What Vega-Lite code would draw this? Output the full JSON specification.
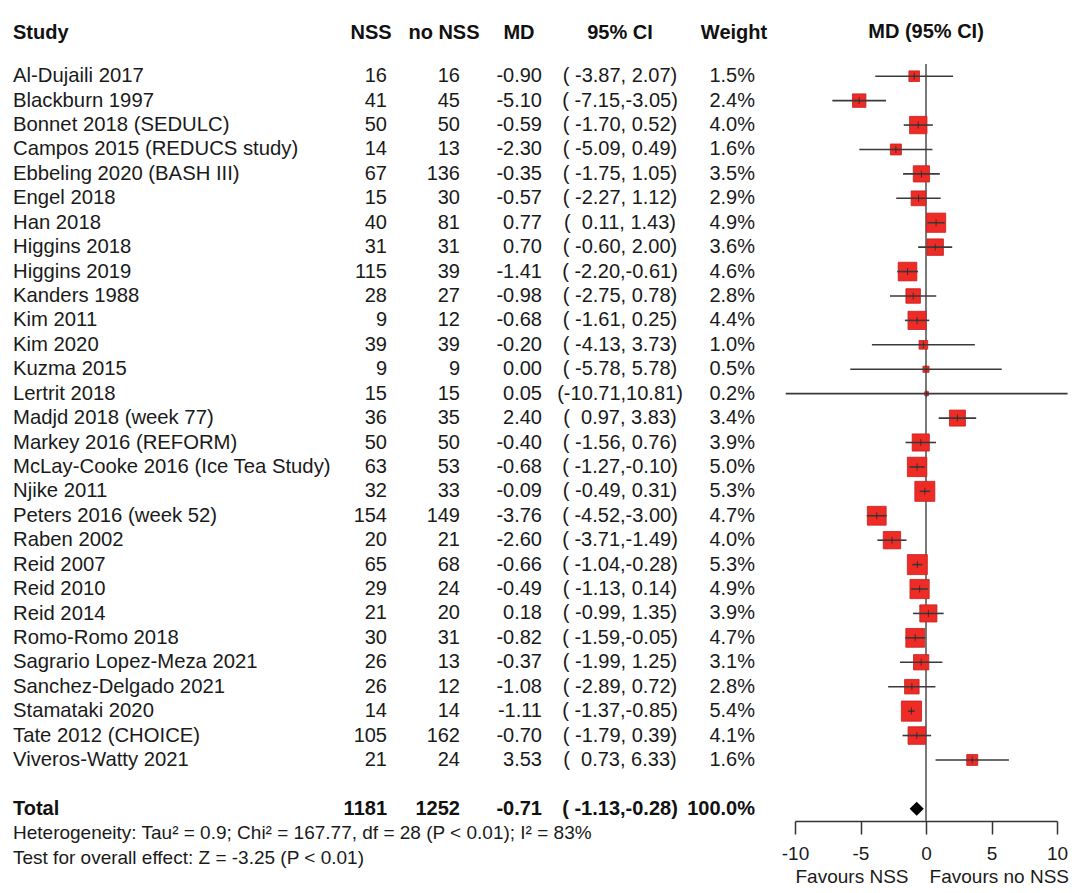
{
  "$schema": "https://vega.github.io/schema/vega-lite/v6.json",
  "background": "white",
  "padding": {"left": 13, "top": 22, "right": 5, "bottom": 5},
  "bounds": "flush",
  "spacing": 40,
  "datasets": {
    "rows": [
      {"Study": "Al-Dujaili 2017", "NSS": 16, "noNSS": 16, "MD": -0.90, "lo": -3.87, "hi": 2.07, "CI": "( -3.87, 2.07)", "W": 0.015},
      {"Study": "Blackburn 1997", "NSS": 41, "noNSS": 45, "MD": -5.10, "lo": -7.15, "hi": -3.05, "CI": "( -7.15,-3.05)", "W": 0.024},
      {"Study": "Bonnet 2018 (SEDULC)", "NSS": 50, "noNSS": 50, "MD": -0.59, "lo": -1.70, "hi": 0.52, "CI": "( -1.70, 0.52)", "W": 0.040},
      {"Study": "Campos 2015 (REDUCS study)", "NSS": 14, "noNSS": 13, "MD": -2.30, "lo": -5.09, "hi": 0.49, "CI": "( -5.09, 0.49)", "W": 0.016},
      {"Study": "Ebbeling 2020 (BASH III)", "NSS": 67, "noNSS": 136, "MD": -0.35, "lo": -1.75, "hi": 1.05, "CI": "( -1.75, 1.05)", "W": 0.035},
      {"Study": "Engel 2018", "NSS": 15, "noNSS": 30, "MD": -0.57, "lo": -2.27, "hi": 1.12, "CI": "( -2.27, 1.12)", "W": 0.029},
      {"Study": "Han 2018", "NSS": 40, "noNSS": 81, "MD": 0.77, "lo": 0.11, "hi": 1.43, "CI": "(\u00a0 0.11, 1.43)", "W": 0.049},
      {"Study": "Higgins 2018", "NSS": 31, "noNSS": 31, "MD": 0.70, "lo": -0.60, "hi": 2.00, "CI": "( -0.60, 2.00)", "W": 0.036},
      {"Study": "Higgins 2019", "NSS": 115, "noNSS": 39, "MD": -1.41, "lo": -2.20, "hi": -0.61, "CI": "( -2.20,-0.61)", "W": 0.046},
      {"Study": "Kanders 1988", "NSS": 28, "noNSS": 27, "MD": -0.98, "lo": -2.75, "hi": 0.78, "CI": "( -2.75, 0.78)", "W": 0.028},
      {"Study": "Kim 2011", "NSS": 9, "noNSS": 12, "MD": -0.68, "lo": -1.61, "hi": 0.25, "CI": "( -1.61, 0.25)", "W": 0.044},
      {"Study": "Kim 2020", "NSS": 39, "noNSS": 39, "MD": -0.20, "lo": -4.13, "hi": 3.73, "CI": "( -4.13, 3.73)", "W": 0.010},
      {"Study": "Kuzma 2015", "NSS": 9, "noNSS": 9, "MD": 0.00, "lo": -5.78, "hi": 5.78, "CI": "( -5.78, 5.78)", "W": 0.005},
      {"Study": "Lertrit 2018", "NSS": 15, "noNSS": 15, "MD": 0.05, "lo": -10.71, "hi": 10.81, "CI": "(-10.71,10.81)", "W": 0.002},
      {"Study": "Madjd 2018 (week 77)", "NSS": 36, "noNSS": 35, "MD": 2.40, "lo": 0.97, "hi": 3.83, "CI": "(\u00a0 0.97, 3.83)", "W": 0.034},
      {"Study": "Markey 2016 (REFORM)", "NSS": 50, "noNSS": 50, "MD": -0.40, "lo": -1.56, "hi": 0.76, "CI": "( -1.56, 0.76)", "W": 0.039},
      {"Study": "McLay-Cooke 2016 (Ice Tea Study)", "NSS": 63, "noNSS": 53, "MD": -0.68, "lo": -1.27, "hi": -0.10, "CI": "( -1.27,-0.10)", "W": 0.050},
      {"Study": "Njike 2011", "NSS": 32, "noNSS": 33, "MD": -0.09, "lo": -0.49, "hi": 0.31, "CI": "( -0.49, 0.31)", "W": 0.053},
      {"Study": "Peters 2016 (week 52)", "NSS": 154, "noNSS": 149, "MD": -3.76, "lo": -4.52, "hi": -3.00, "CI": "( -4.52,-3.00)", "W": 0.047},
      {"Study": "Raben 2002", "NSS": 20, "noNSS": 21, "MD": -2.60, "lo": -3.71, "hi": -1.49, "CI": "( -3.71,-1.49)", "W": 0.040},
      {"Study": "Reid 2007", "NSS": 65, "noNSS": 68, "MD": -0.66, "lo": -1.04, "hi": -0.28, "CI": "( -1.04,-0.28)", "W": 0.053},
      {"Study": "Reid 2010", "NSS": 29, "noNSS": 24, "MD": -0.49, "lo": -1.13, "hi": 0.14, "CI": "( -1.13, 0.14)", "W": 0.049},
      {"Study": "Reid 2014", "NSS": 21, "noNSS": 20, "MD": 0.18, "lo": -0.99, "hi": 1.35, "CI": "( -0.99, 1.35)", "W": 0.039},
      {"Study": "Romo-Romo 2018", "NSS": 30, "noNSS": 31, "MD": -0.82, "lo": -1.59, "hi": -0.05, "CI": "( -1.59,-0.05)", "W": 0.047},
      {"Study": "Sagrario Lopez-Meza 2021", "NSS": 26, "noNSS": 13, "MD": -0.37, "lo": -1.99, "hi": 1.25, "CI": "( -1.99, 1.25)", "W": 0.031},
      {"Study": "Sanchez-Delgado 2021", "NSS": 26, "noNSS": 12, "MD": -1.08, "lo": -2.89, "hi": 0.72, "CI": "( -2.89, 0.72)", "W": 0.028},
      {"Study": "Stamataki 2020", "NSS": 14, "noNSS": 14, "MD": -1.11, "lo": -1.37, "hi": -0.85, "CI": "( -1.37,-0.85)", "W": 0.054},
      {"Study": "Tate 2012 (CHOICE)", "NSS": 105, "noNSS": 162, "MD": -0.70, "lo": -1.79, "hi": 0.39, "CI": "( -1.79, 0.39)", "W": 0.041},
      {"Study": "Viveros-Watty 2021", "NSS": 21, "noNSS": 24, "MD": 3.53, "lo": 0.73, "hi": 6.33, "CI": "(\u00a0 0.73, 6.33)", "W": 0.016},
      {"Study": "Total", "NSS": 1181, "noNSS": 1252, "MD": -0.71, "lo": -1.13, "hi": -0.28, "CI": "( -1.13,-0.28)", "W": 1.0}
    ],
    "footer": [
      {"Study": "Heterogeneity: Tau² = 0.9; Chi² = 167.77, df = 28 (P < 0.01); I² = 83%"},
      {"Study": "Test for overall effect: Z = -3.25 (P < 0.01)"}
    ]
  },
  "config": {
    "locale": {"number": {"decimal": ".", "thousands": ",", "grouping": [3], "currency": ["$", ""], "minus": "-"}},
    "view": {"stroke": null},
    "font": "Liberation Sans",
    "text": {"font": "Liberation Sans", "fontSize": 20, "color": "#1a1a1a"},
    "title": {"font": "Liberation Sans", "fontSize": 20, "fontWeight": "bold", "color": "#111111", "baseline": "middle", "offset": 21, "frame": "group"}
  },
  "hconcat": [
    {
      "width": 294, "height": 806,
      "title": {"text": "Study", "anchor": "start"},
      "layer": [
        {
          "data": {"name": "rows"},
          "transform": [{"filter": "datum.Study !== 'Total'"}],
          "mark": {"type": "text", "align": "left", "fontSize": 20.3},
          "encoding": {
            "x": {"datum": 0, "type": "quantitative", "scale": {"domain": [0, 1]}, "axis": null},
            "y": {"field": "Study", "type": "nominal", "axis": null, "scale": {"type": "point", "padding": 0.5, "domain": ["Al-Dujaili 2017", "Blackburn 1997", "Bonnet 2018 (SEDULC)", "Campos 2015 (REDUCS study)", "Ebbeling 2020 (BASH III)", "Engel 2018", "Han 2018", "Higgins 2018", "Higgins 2019", "Kanders 1988", "Kim 2011", "Kim 2020", "Kuzma 2015", "Lertrit 2018", "Madjd 2018 (week 77)", "Markey 2016 (REFORM)", "McLay-Cooke 2016 (Ice Tea Study)", "Njike 2011", "Peters 2016 (week 52)", "Raben 2002", "Reid 2007", "Reid 2010", "Reid 2014", "Romo-Romo 2018", "Sagrario Lopez-Meza 2021", "Sanchez-Delgado 2021", "Stamataki 2020", "Tate 2012 (CHOICE)", "Viveros-Watty 2021", " ", "Total", "Heterogeneity: Tau² = 0.9; Chi² = 167.77, df = 28 (P < 0.01); I² = 83%", "Test for overall effect: Z = -3.25 (P < 0.01)"]}},
            "text": {"field": "Study", "type": "nominal"}
          }
        },
        {
          "data": {"name": "rows"},
          "transform": [{"filter": "datum.Study === 'Total'"}],
          "mark": {"type": "text", "align": "left", "fontWeight": "bold", "color": "#111111"},
          "encoding": {
            "x": {"datum": 0, "type": "quantitative"},
            "y": {"field": "Study", "type": "nominal"},
            "text": {"field": "Study", "type": "nominal"}
          }
        },
        {
          "data": {"name": "footer"},
          "mark": {"type": "text", "align": "left", "fontSize": 19},
          "encoding": {
            "x": {"datum": 0, "type": "quantitative"},
            "y": {"field": "Study", "type": "nominal"},
            "text": {"field": "Study", "type": "nominal"}
          }
        }
      ]
    },
    {
      "width": 40, "height": 757,
      "title": {"text": "NSS", "anchor": "middle", "dx": 4},
      "data": {"name": "rows"},
      "encoding": {
        "x": {"datum": 1, "type": "quantitative", "scale": {"domain": [0, 1]}, "axis": null},
        "y": {"field": "Study", "type": "nominal", "axis": null, "scale": {"type": "point", "padding": 0.5, "domain": ["Al-Dujaili 2017", "Blackburn 1997", "Bonnet 2018 (SEDULC)", "Campos 2015 (REDUCS study)", "Ebbeling 2020 (BASH III)", "Engel 2018", "Han 2018", "Higgins 2018", "Higgins 2019", "Kanders 1988", "Kim 2011", "Kim 2020", "Kuzma 2015", "Lertrit 2018", "Madjd 2018 (week 77)", "Markey 2016 (REFORM)", "McLay-Cooke 2016 (Ice Tea Study)", "Njike 2011", "Peters 2016 (week 52)", "Raben 2002", "Reid 2007", "Reid 2010", "Reid 2014", "Romo-Romo 2018", "Sagrario Lopez-Meza 2021", "Sanchez-Delgado 2021", "Stamataki 2020", "Tate 2012 (CHOICE)", "Viveros-Watty 2021", " ", "Total"]}},
        "text": {"field": "NSS", "type": "quantitative", "format": "d"}
      },
      "layer": [
        {"transform": [{"filter": "datum.Study !== 'Total'"}], "mark": {"type": "text", "align": "right"}},
        {"transform": [{"filter": "datum.Study === 'Total'"}], "mark": {"type": "text", "align": "right", "fontWeight": "bold", "color": "#111111"}}
      ]
    },
    {
      "width": 33, "height": 757,
      "title": {"text": "no NSS", "anchor": "middle", "dx": 0.5},
      "data": {"name": "rows"},
      "encoding": {
        "x": {"datum": 1, "type": "quantitative", "scale": {"domain": [0, 1]}, "axis": null},
        "y": {"field": "Study", "type": "nominal", "axis": null, "scale": {"type": "point", "padding": 0.5, "domain": ["Al-Dujaili 2017", "Blackburn 1997", "Bonnet 2018 (SEDULC)", "Campos 2015 (REDUCS study)", "Ebbeling 2020 (BASH III)", "Engel 2018", "Han 2018", "Higgins 2018", "Higgins 2019", "Kanders 1988", "Kim 2011", "Kim 2020", "Kuzma 2015", "Lertrit 2018", "Madjd 2018 (week 77)", "Markey 2016 (REFORM)", "McLay-Cooke 2016 (Ice Tea Study)", "Njike 2011", "Peters 2016 (week 52)", "Raben 2002", "Reid 2007", "Reid 2010", "Reid 2014", "Romo-Romo 2018", "Sagrario Lopez-Meza 2021", "Sanchez-Delgado 2021", "Stamataki 2020", "Tate 2012 (CHOICE)", "Viveros-Watty 2021", " ", "Total"]}},
        "text": {"field": "noNSS", "type": "quantitative", "format": "d"}
      },
      "layer": [
        {"transform": [{"filter": "datum.Study !== 'Total'"}], "mark": {"type": "text", "align": "right"}},
        {"transform": [{"filter": "datum.Study === 'Total'"}], "mark": {"type": "text", "align": "right", "fontWeight": "bold", "color": "#111111"}}
      ]
    },
    {
      "width": 42, "height": 757,
      "title": {"text": "MD", "anchor": "middle", "dx": -2},
      "data": {"name": "rows"},
      "encoding": {
        "x": {"datum": 1, "type": "quantitative", "scale": {"domain": [0, 1]}, "axis": null},
        "y": {"field": "Study", "type": "nominal", "axis": null, "scale": {"type": "point", "padding": 0.5, "domain": ["Al-Dujaili 2017", "Blackburn 1997", "Bonnet 2018 (SEDULC)", "Campos 2015 (REDUCS study)", "Ebbeling 2020 (BASH III)", "Engel 2018", "Han 2018", "Higgins 2018", "Higgins 2019", "Kanders 1988", "Kim 2011", "Kim 2020", "Kuzma 2015", "Lertrit 2018", "Madjd 2018 (week 77)", "Markey 2016 (REFORM)", "McLay-Cooke 2016 (Ice Tea Study)", "Njike 2011", "Peters 2016 (week 52)", "Raben 2002", "Reid 2007", "Reid 2010", "Reid 2014", "Romo-Romo 2018", "Sagrario Lopez-Meza 2021", "Sanchez-Delgado 2021", "Stamataki 2020", "Tate 2012 (CHOICE)", "Viveros-Watty 2021", " ", "Total"]}},
        "text": {"field": "MD", "type": "quantitative", "format": ".2f"}
      },
      "layer": [
        {"transform": [{"filter": "datum.Study !== 'Total'"}], "mark": {"type": "text", "align": "right"}},
        {"transform": [{"filter": "datum.Study === 'Total'"}], "mark": {"type": "text", "align": "right", "fontWeight": "bold", "color": "#111111"}}
      ]
    },
    {
      "width": 76, "height": 757,
      "title": {"text": "95% CI", "anchor": "middle"},
      "data": {"name": "rows"},
      "encoding": {
        "x": {"datum": 0.5, "type": "quantitative", "scale": {"domain": [0, 1]}, "axis": null},
        "y": {"field": "Study", "type": "nominal", "axis": null, "scale": {"type": "point", "padding": 0.5, "domain": ["Al-Dujaili 2017", "Blackburn 1997", "Bonnet 2018 (SEDULC)", "Campos 2015 (REDUCS study)", "Ebbeling 2020 (BASH III)", "Engel 2018", "Han 2018", "Higgins 2018", "Higgins 2019", "Kanders 1988", "Kim 2011", "Kim 2020", "Kuzma 2015", "Lertrit 2018", "Madjd 2018 (week 77)", "Markey 2016 (REFORM)", "McLay-Cooke 2016 (Ice Tea Study)", "Njike 2011", "Peters 2016 (week 52)", "Raben 2002", "Reid 2007", "Reid 2010", "Reid 2014", "Romo-Romo 2018", "Sagrario Lopez-Meza 2021", "Sanchez-Delgado 2021", "Stamataki 2020", "Tate 2012 (CHOICE)", "Viveros-Watty 2021", " ", "Total"]}},
        "text": {"field": "CI", "type": "nominal"}
      },
      "layer": [
        {"transform": [{"filter": "datum.Study !== 'Total'"}], "mark": {"type": "text", "align": "center"}},
        {"transform": [{"filter": "datum.Study === 'Total'"}], "mark": {"type": "text", "align": "center", "fontWeight": "bold", "color": "#111111"}}
      ]
    },
    {
      "width": 57, "height": 757,
      "title": {"text": "Weight", "anchor": "middle", "dx": 7.5},
      "data": {"name": "rows"},
      "encoding": {
        "x": {"datum": 1, "type": "quantitative", "scale": {"domain": [0, 1]}, "axis": null},
        "y": {"field": "Study", "type": "nominal", "axis": null, "scale": {"type": "point", "padding": 0.5, "domain": ["Al-Dujaili 2017", "Blackburn 1997", "Bonnet 2018 (SEDULC)", "Campos 2015 (REDUCS study)", "Ebbeling 2020 (BASH III)", "Engel 2018", "Han 2018", "Higgins 2018", "Higgins 2019", "Kanders 1988", "Kim 2011", "Kim 2020", "Kuzma 2015", "Lertrit 2018", "Madjd 2018 (week 77)", "Markey 2016 (REFORM)", "McLay-Cooke 2016 (Ice Tea Study)", "Njike 2011", "Peters 2016 (week 52)", "Raben 2002", "Reid 2007", "Reid 2010", "Reid 2014", "Romo-Romo 2018", "Sagrario Lopez-Meza 2021", "Sanchez-Delgado 2021", "Stamataki 2020", "Tate 2012 (CHOICE)", "Viveros-Watty 2021", " ", "Total"]}},
        "text": {"field": "W", "type": "quantitative", "format": ".1%"}
      },
      "layer": [
        {"transform": [{"filter": "datum.Study !== 'Total'"}], "mark": {"type": "text", "align": "right"}},
        {"transform": [{"filter": "datum.Study === 'Total'"}], "mark": {"type": "text", "align": "right", "fontWeight": "bold", "color": "#111111"}}
      ]
    },
    {
      "width": 262, "height": 757,
      "title": {"text": "MD (95% CI)", "anchor": "middle"},
      "data": {"name": "rows"},
      "layer": [
        {
          "mark": {"type": "rule", "color": "#7a7a7a", "strokeWidth": 1.6},
          "encoding": {
            "x": {"datum": 0, "type": "quantitative", "scale": {"domain": [-10, 10], "nice": false, "zero": false},
                  "axis": {"values": [-10, -5, 0, 5, 10], "grid": false, "title": "Favours NSS\u00a0\u00a0\u00a0\u00a0Favours no NSS", "titleAnchor": "start", "titleFont": "Liberation Sans", "titleFontSize": 19, "titleFontWeight": "normal", "titleColor": "#1a1a1a", "titlePadding": 4, "labelFont": "Liberation Sans", "labelFontSize": 19, "labelColor": "#1a1a1a", "labelPadding": 10, "tickSize": 13, "tickColor": "#333333", "tickWidth": 1.5, "domainColor": "#333333", "domainWidth": 1.5, "labelFlush": false}}
          }
        },
        {
          "transform": [{"filter": "datum.Study !== 'Total'"}],
          "mark": {"type": "point", "shape": "square", "filled": true, "fill": "#ee2b25", "stroke": "#c42020", "strokeWidth": 0.8, "opacity": 1},
          "encoding": {
            "x": {"field": "MD", "type": "quantitative"},
            "y": {"field": "Study", "type": "nominal", "axis": null, "scale": {"type": "point", "padding": 0.5, "domain": ["Al-Dujaili 2017", "Blackburn 1997", "Bonnet 2018 (SEDULC)", "Campos 2015 (REDUCS study)", "Ebbeling 2020 (BASH III)", "Engel 2018", "Han 2018", "Higgins 2018", "Higgins 2019", "Kanders 1988", "Kim 2011", "Kim 2020", "Kuzma 2015", "Lertrit 2018", "Madjd 2018 (week 77)", "Markey 2016 (REFORM)", "McLay-Cooke 2016 (Ice Tea Study)", "Njike 2011", "Peters 2016 (week 52)", "Raben 2002", "Reid 2007", "Reid 2010", "Reid 2014", "Romo-Romo 2018", "Sagrario Lopez-Meza 2021", "Sanchez-Delgado 2021", "Stamataki 2020", "Tate 2012 (CHOICE)", "Viveros-Watty 2021", " ", "Total"]}},
            "size": {"field": "W", "type": "quantitative", "scale": {"type": "linear", "domain": [0, 0.053], "range": [0, 400], "zero": true}, "legend": null}
          }
        },
        {
          "transform": [{"filter": "datum.Study !== 'Total'"}],
          "mark": {"type": "rule", "color": "#3a3a3a", "strokeWidth": 1.6},
          "encoding": {
            "x": {"field": "lo", "type": "quantitative"},
            "x2": {"field": "hi"},
            "y": {"field": "Study", "type": "nominal"}
          }
        },
        {
          "transform": [{"filter": "datum.Study !== 'Total'"}],
          "mark": {"type": "tick", "orient": "vertical", "color": "#222222", "size": 7, "thickness": 1},
          "encoding": {
            "x": {"field": "MD", "type": "quantitative"},
            "y": {"field": "Study", "type": "nominal"}
          }
        },
        {
          "transform": [{"filter": "datum.Study === 'Total'"}],
          "mark": {"type": "point", "shape": "diamond", "filled": true, "color": "#000000", "size": 200, "opacity": 1},
          "encoding": {
            "x": {"field": "MD", "type": "quantitative"},
            "y": {"field": "Study", "type": "nominal"}
          }
        }
      ]
    }
  ]
}
